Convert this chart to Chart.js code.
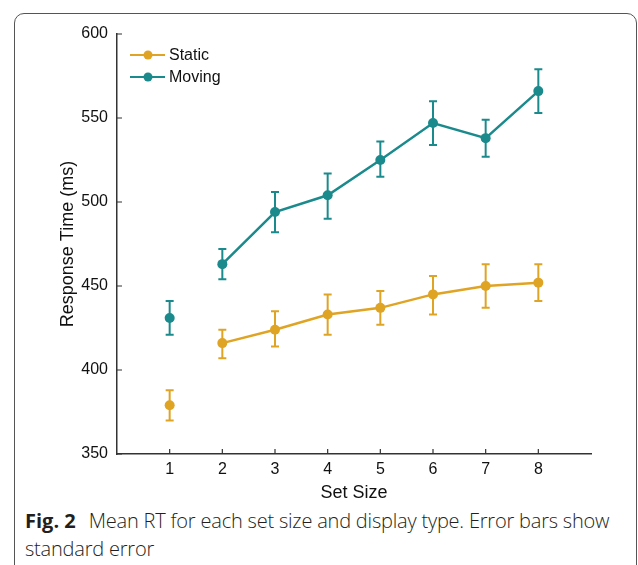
<!DOCTYPE html>
<html>
<head>
<meta charset="utf-8">
<script src="https://cdn.jsdelivr.net/npm/chart.js@4.4.1/dist/chart.umd.min.js"></script>
<style>
  body { margin: 0; background: #fff; width: 638px; height: 565px; overflow: hidden; position: relative; }
  .frame {
    position: absolute; left: 14px; top: 13px; width: 623px; height: 620px;
    border: 1.5px solid #555; border-radius: 10px; box-sizing: border-box;
  }
  #chart { position: absolute; left: 0; top: 0; }
  .caption {
    position: absolute; left: 25px; top: 507px; width: 608px;
    font-family: "Open Sans", sans-serif; font-size: 20px; line-height: 28px;
    color: #231f20; font-weight: 300; letter-spacing: -0.2px;
  }
  .caption b { font-weight: 700; margin-right: 8px; letter-spacing: 0; }
</style>
</head>
<body>
<div class="frame"></div>
<canvas id="chart" width="638" height="505"></canvas>
<div class="caption"><b>Fig. 2</b> Mean RT for each set size and display type. Error bars show standard error</div>
<script>
const setSizes = [1, 2, 3, 4, 5, 6, 7, 8];
const yTicks = [350, 400, 450, 500, 550, 600];

const staticMean = [379, 416, 424, 433, 437, 445, 450, 452];
const staticLow = [370, 407, 414, 421, 427, 433, 437, 441];
const staticHigh = [388, 424, 435, 445, 447, 456, 463, 463];

const movingMean = [431, 463, 494, 504, 525, 547, 538, 566];
const movingLow = [421, 454, 482, 490, 515, 534, 527, 553];
const movingHigh = [441, 472, 506, 517, 536, 560, 549, 579];

const STATIC_COLOR = "#E0A424";
const MOVING_COLOR = "#1B8A8C";
const AXIS_COLOR = "#333";
const FONT = "'Liberation Sans', Arial, sans-serif";

const toPoints = (ys) => setSizes.map((x, i) => ({ x: x, y: ys[i] }));

// first point (set size 1) is not joined to the rest
const lineSegment = (color) => ({
  borderColor: (ctx) => (ctx.p0DataIndex === 0 ? "transparent" : color),
});

const errorBars = [
  { low: staticLow, high: staticHigh },
  { low: movingLow, high: movingHigh },
];

const errorBarPlugin = {
  id: "errorBars",
  beforeDatasetsDraw(chart) {
    const { ctx, scales } = chart;
    chart.data.datasets.forEach((ds, di) => {
      const eb = errorBars[di];
      ctx.save();
      ctx.strokeStyle = ds.borderColor;
      ctx.lineWidth = 2;
      setSizes.forEach((x, i) => {
        const px = scales.x.getPixelForValue(x);
        const yl = scales.y.getPixelForValue(eb.low[i]);
        const yh = scales.y.getPixelForValue(eb.high[i]);
        ctx.beginPath();
        ctx.moveTo(px, yl);
        ctx.lineTo(px, yh);
        ctx.moveTo(px - 4, yl);
        ctx.lineTo(px + 4, yl);
        ctx.moveTo(px - 4, yh);
        ctx.lineTo(px + 4, yh);
        ctx.stroke();
      });
      ctx.restore();
    });
  },
  afterDraw(chart) {
    const { ctx, scales, chartArea } = chart;
    ctx.save();
    ctx.strokeStyle = AXIS_COLOR;
    ctx.lineWidth = 1.2;
    // inward ticks
    ctx.beginPath();
    yTicks.forEach((v) => {
      const py = scales.y.getPixelForValue(v);
      ctx.moveTo(chartArea.left, py);
      ctx.lineTo(chartArea.left + 5, py);
    });
    setSizes.forEach((v) => {
      const px = scales.x.getPixelForValue(v);
      ctx.moveTo(px, chartArea.bottom);
      ctx.lineTo(px, chartArea.bottom - 5);
    });
    ctx.stroke();

    // legend inside the plot, line + marker
    chart.data.datasets.forEach((ds, i) => {
      const y = chartArea.top + 21 + i * 22;
      const x0 = chartArea.left + 13;
      ctx.strokeStyle = ds.borderColor;
      ctx.lineWidth = 2;
      ctx.beginPath();
      ctx.moveTo(x0, y);
      ctx.lineTo(x0 + 35, y);
      ctx.stroke();
      ctx.fillStyle = ds.borderColor;
      ctx.beginPath();
      ctx.arc(x0 + 18, y, 4.5, 0, Math.PI * 2);
      ctx.fill();
      ctx.fillStyle = "#111";
      ctx.font = "16px " + FONT;
      ctx.textBaseline = "middle";
      ctx.textAlign = "left";
      ctx.fillText(ds.label, x0 + 39, y + 1);
    });
    ctx.restore();
  },
};

new Chart(document.getElementById("chart"), {
  type: "line",
  data: {
    datasets: [
      {
        label: "Static",
        data: toPoints(staticMean),
        borderColor: STATIC_COLOR,
        backgroundColor: STATIC_COLOR,
        borderWidth: 2.5,
        pointRadius: 5,
        pointBorderWidth: 0,
        segment: lineSegment(STATIC_COLOR),
      },
      {
        label: "Moving",
        data: toPoints(movingMean),
        borderColor: MOVING_COLOR,
        backgroundColor: MOVING_COLOR,
        borderWidth: 2.5,
        pointRadius: 5,
        pointBorderWidth: 0,
        segment: lineSegment(MOVING_COLOR),
      },
    ],
  },
  options: {
    responsive: false,
    animation: false,
    layout: { padding: { top: 34, right: 47, bottom: 0, left: 0 } },
    plugins: {
      legend: { display: false },
      tooltip: { enabled: false },
    },
    scales: {
      x: {
        type: "linear",
        min: 0,
        max: 9,
        afterFit: (scale) => { scale.height = 51; },
        afterBuildTicks: (scale) => { scale.ticks = setSizes.map((v) => ({ value: v })); },
        grid: { display: false, drawTicks: false },
        border: { color: AXIS_COLOR, width: 1.5 },
        ticks: { color: "#111", font: { family: FONT, size: 16 }, padding: 6, maxRotation: 0 },
        title: {
          display: true,
          text: "Set Size",
          color: "#111",
          font: { family: FONT, size: 18 },
          padding: { top: 0, bottom: 1 },
        },
      },
      y: {
        min: 350,
        max: 600,
        afterFit: (scale) => { scale.width = 117; },
        afterBuildTicks: (scale) => { scale.ticks = yTicks.map((v) => ({ value: v })); },
        grid: { display: false, drawTicks: false },
        border: { color: AXIS_COLOR, width: 1.5 },
        ticks: { color: "#111", font: { family: FONT, size: 16 }, padding: 9 },
        title: {
          display: true,
          text: "Response Time (ms)",
          color: "#111",
          font: { family: FONT, size: 18 },
          padding: { top: 57, bottom: 0 },
        },
      },
    },
  },
  plugins: [errorBarPlugin],
});
</script>
</body>
</html>
